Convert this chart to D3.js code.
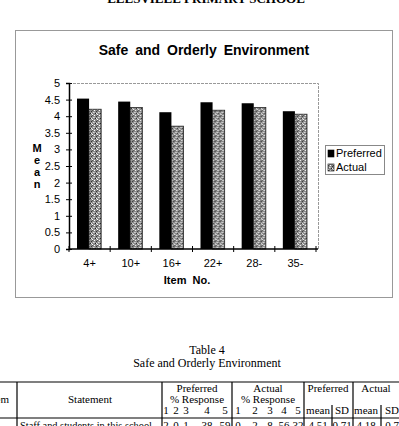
<!DOCTYPE html>
<html>
<head>
<meta charset="utf-8">
<script src="https://cdn.jsdelivr.net/npm/d3@7.9.0/dist/d3.min.js"></script>
<style>
  body { margin: 0; background: #fff; }
  svg { display: block; }
</style>
</head>
<body>
<svg width="399" height="426"></svg>
<script>
// chart data
const items = ['4+', '10+', '16+', '22+', '28-', '35-'];
const seriesNames = ['Preferred', 'Actual'];
const preferred = [4.53, 4.44, 4.12, 4.42, 4.39, 4.15];
const actual = [4.21, 4.26, 3.70, 4.18, 4.26, 4.06];
const yTicks = [0, 0.5, 1, 1.5, 2, 2.5, 3, 3.5, 4, 4.5, 5];

// table row shown under the chart
const prefPct = ['2', '0', '1', '38', '59'];
const actPct = ['0', '2', '8', '56', '32'];
const stats = ['4.51', '0.71', '4.18', '0.7'];

const svg = d3.select('svg');
const sans = 'Liberation Sans, Arial, sans-serif';
const serif = 'Liberation Serif, Times New Roman, serif';

// stipple pattern for the Actual bars
const defs = svg.append('defs');
const pat = defs.append('pattern').attr('id', 'stip')
  .attr('patternUnits', 'userSpaceOnUse').attr('width', 5).attr('height', 5);
pat.append('rect').attr('width', 5).attr('height', 5).attr('fill', '#8a8a8a');
[[0,0,'#fff'],[2,1,'#333'],[4,2,'#ddd'],[1,3,'#222'],[3,4,'#fff'],[3,0,'#555'],[0,2,'#bbb'],[2,3,'#eee']]
  .forEach(([x, y, c]) => pat.append('rect').attr('x', x).attr('y', y).attr('width', 1).attr('height', 1).attr('fill', c));

// page header (cut off at top)
svg.append('text').attr('x', 206).attr('y', 3).attr('text-anchor', 'middle')
  .attr('font-family', serif).attr('font-weight', 'bold').attr('font-size', 13)
  .text('ELLSVILLE PRIMARY SCHOOL');

// chart frame
svg.append('rect').attr('x', 15.5).attr('y', 30.5).attr('width', 377).attr('height', 267)
  .attr('fill', 'none').attr('stroke', '#999');

svg.append('text').attr('x', 204).attr('y', 55).attr('text-anchor', 'middle')
  .attr('font-family', sans).attr('font-weight', 'bold').attr('font-size', 14)
  .attr('word-spacing', 3).text('Safe and Orderly Environment');

const x0 = d3.scaleBand().domain(items).range([69, 316]);
const x1 = d3.scaleBand().domain(seriesNames).range([8, x0.bandwidth() - 9]);
const y = d3.scaleLinear().domain([0, 5]).range([249, 83]);

// plot area border (top/right, light)
svg.append('path').attr('d', `M69,83.5H318.5V249`).attr('fill', 'none')
  .attr('stroke', '#999').attr('stroke-dasharray', '3,1');

// bars
const groups = svg.append('g').selectAll('g').data(items).join('g')
  .attr('transform', d => `translate(${x0(d)},0)`);
groups.append('rect')
  .attr('x', x1('Preferred')).attr('width', x1.bandwidth())
  .attr('y', (d, i) => y(preferred[i])).attr('height', (d, i) => y(0) - y(preferred[i]))
  .attr('fill', '#000');
groups.append('rect')
  .attr('x', x1('Actual')).attr('width', x1.bandwidth())
  .attr('y', (d, i) => y(actual[i])).attr('height', (d, i) => y(0) - y(actual[i]))
  .attr('fill', 'url(#stip)').attr('stroke', '#222').attr('stroke-width', 0.8);

// y axis
const yAxis = svg.append('g').attr('transform', 'translate(69,0)')
  .call(d3.axisLeft(y).tickValues(yTicks).tickFormat(d => String(d)).tickSize(3).tickPadding(6));
yAxis.select('.domain').attr('stroke', '#000').attr('stroke-width', 1.5);
yAxis.selectAll('.tick line').attr('x1', 3).attr('x2', -3);
yAxis.selectAll('text').attr('font-family', sans).attr('font-size', 11).attr('fill', '#000');

// x axis
svg.append('line').attr('x1', 69).attr('x2', 318).attr('y1', 249).attr('y2', 249)
  .attr('stroke', '#000').attr('stroke-width', 1.5);
const bounds = items.map(d => x0(d)).concat([x0.range()[1]]);
svg.append('g').selectAll('line').data(bounds).join('line')
  .attr('x1', d => d).attr('x2', d => d).attr('y1', 246).attr('y2', 252)
  .attr('stroke', '#000');
svg.append('g').selectAll('text').data(items).join('text')
  .attr('x', d => x0(d) + x0.bandwidth() / 2).attr('y', 267)
  .attr('text-anchor', 'middle').attr('font-family', sans).attr('font-size', 11)
  .text(d => d);

svg.append('text').attr('x', 187).attr('y', 284).attr('text-anchor', 'middle')
  .attr('font-family', sans).attr('font-weight', 'bold').attr('font-size', 11)
  .attr('word-spacing', 3).text('Item No.');

// stacked y title
svg.append('g').selectAll('text').data(['M', 'e', 'a', 'n']).join('text')
  .attr('x', 37).attr('y', (d, i) => 152 + i * 12).attr('text-anchor', 'middle')
  .attr('font-family', sans).attr('font-weight', 'bold').attr('font-size', 11)
  .text(d => d);

// legend
const lg = svg.append('g');
lg.append('rect').attr('x', 325.5).attr('y', 145.5).attr('width', 59).attr('height', 29)
  .attr('fill', 'none').attr('stroke', '#888');
lg.selectAll('.sw').data(seriesNames).join('rect')
  .attr('x', 328).attr('y', (d, i) => 150 + i * 14).attr('width', 6).attr('height', 7)
  .attr('fill', (d, i) => i ? 'url(#stip)' : '#000').attr('stroke', '#000').attr('stroke-width', 0.6);
lg.selectAll('text').data(seriesNames).join('text')
  .attr('x', 336).attr('y', (d, i) => 157 + i * 14)
  .attr('font-family', sans).attr('font-size', 11).text(d => d);

// table caption
svg.append('text').attr('x', 207).attr('y', 354).attr('text-anchor', 'middle')
  .attr('font-family', serif).attr('font-size', 12).text('Table 4');
svg.append('text').attr('x', 207).attr('y', 367).attr('text-anchor', 'middle')
  .attr('font-family', serif).attr('font-size', 12).text('Safe and Orderly Environment');

// table lines
const tb = svg.append('g').attr('stroke', '#000').attr('stroke-width', 1.2);
tb.append('line').attr('x1', 0).attr('x2', 399).attr('y1', 382).attr('y2', 382);
tb.append('line').attr('x1', 0).attr('x2', 399).attr('y1', 418).attr('y2', 418);
[17, 162, 232, 304, 353].forEach(x => tb.append('line').attr('x1', x).attr('x2', x).attr('y1', 382).attr('y2', 426));
[332, 381].forEach(x => tb.append('line').attr('x1', x).attr('x2', x).attr('y1', 405).attr('y2', 426));

const tt = svg.append('g').attr('font-family', serif).attr('font-size', 11).attr('text-anchor', 'middle');
tt.append('text').attr('x', 9).attr('y', 403).attr('text-anchor', 'end').text('Item');
tt.append('text').attr('x', 90).attr('y', 403).text('Statement');
tt.append('text').attr('x', 197).attr('y', 392).text('Preferred');
tt.append('text').attr('x', 197).attr('y', 403).text('% Response');
tt.append('text').attr('x', 268).attr('y', 392).text('Actual');
tt.append('text').attr('x', 268).attr('y', 403).text('% Response');
tt.append('text').attr('x', 328).attr('y', 392).text('Preferred');
tt.append('text').attr('x', 376).attr('y', 392).text('Actual');

const prefX = [166, 176, 186, 207, 225];
const actX = [238, 255, 270, 284, 298];
[1, 2, 3, 4, 5].forEach((n, i) => {
  tt.append('text').attr('x', prefX[i]).attr('y', 414).text(n);
  tt.append('text').attr('x', actX[i]).attr('y', 414).text(n);
  tt.append('text').attr('x', prefX[i]).attr('y', 429).text(prefPct[i]);
  tt.append('text').attr('x', actX[i]).attr('y', 429).text(actPct[i]);
});
['mean', 'SD', 'mean', 'SD'].forEach((s, i) => {
  const cx = [318, 342, 366, 392][i];
  tt.append('text').attr('x', cx).attr('y', 414).text(s);
  tt.append('text').attr('x', cx).attr('y', 429).text(stats[i]);
});
tt.append('text').attr('x', 20).attr('y', 429).attr('text-anchor', 'start')
  .attr('textLength', 132).attr('lengthAdjust', 'spacingAndGlyphs')
  .text('Staff and students in this school');
</script>
</body>
</html>
